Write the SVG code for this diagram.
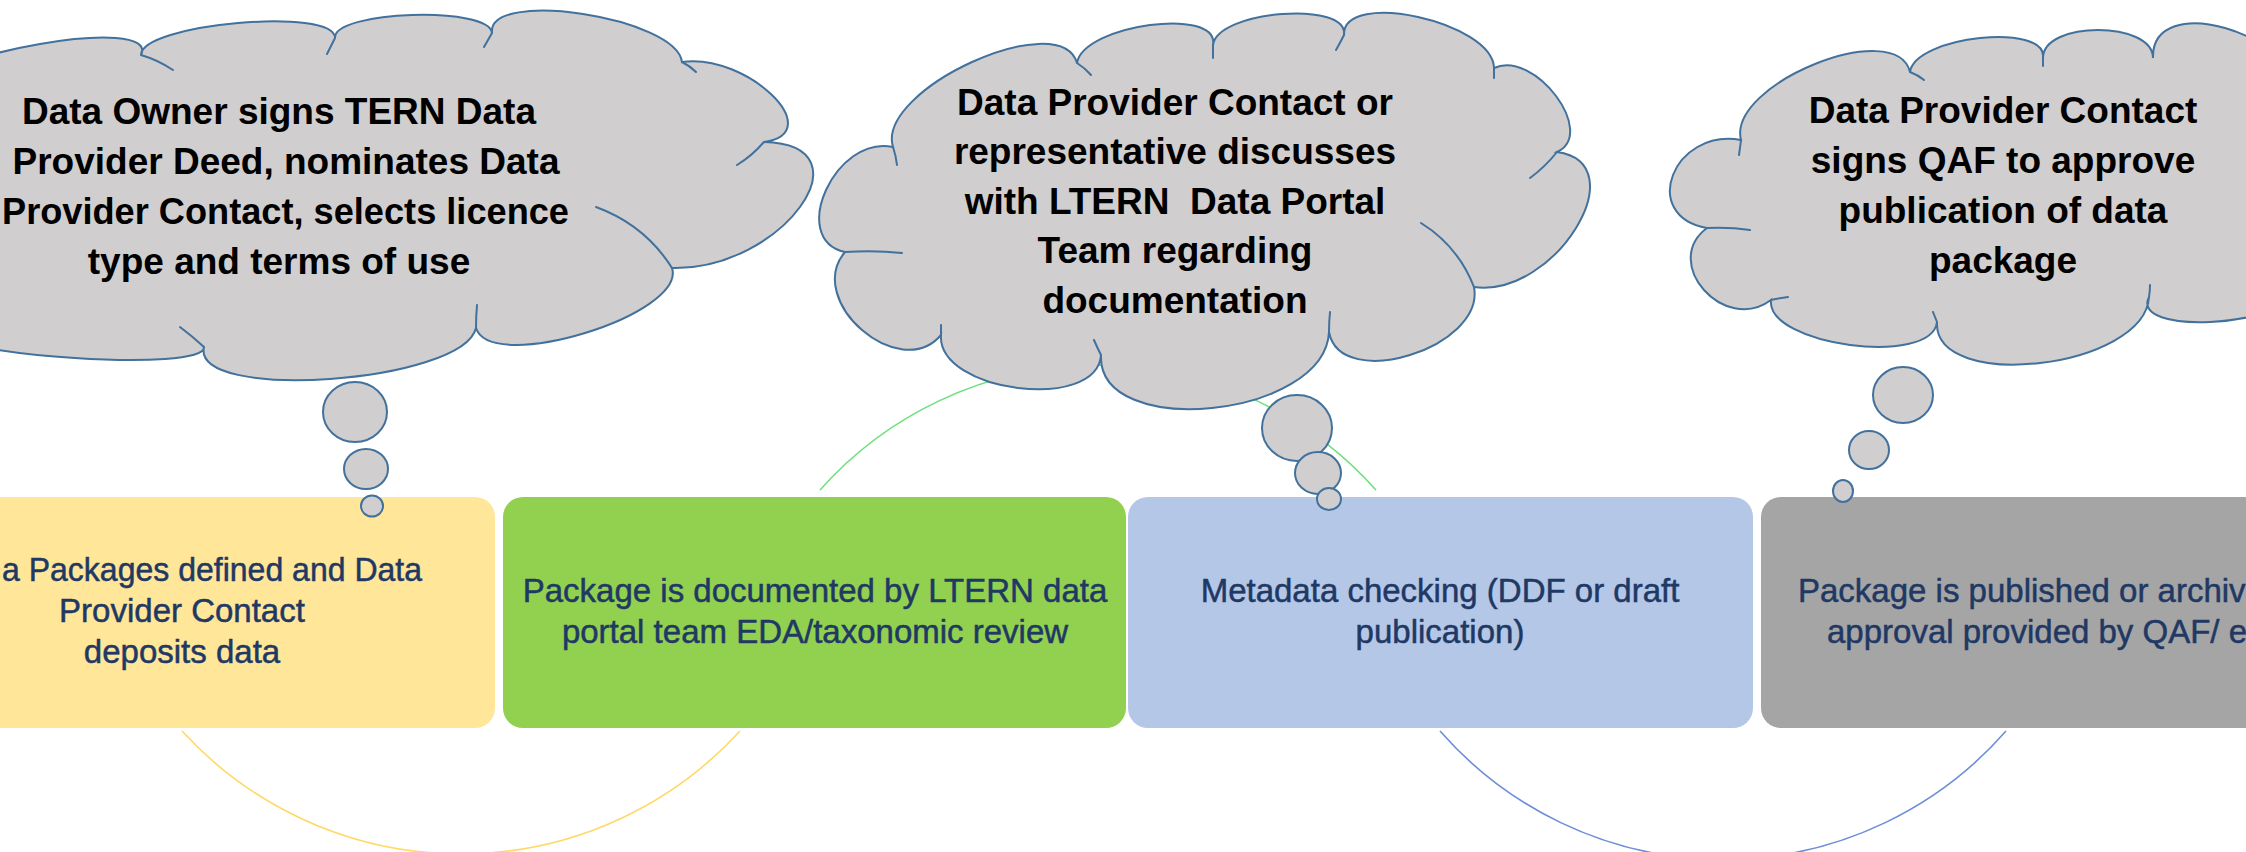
<svg xmlns="http://www.w3.org/2000/svg" width="2246" height="852" viewBox="0 0 2246 852">
<defs>
<style>
.box text{font-family:"Liberation Sans",Arial,sans-serif;font-size:33px;fill:#1f3864;stroke:#1f3864;stroke-width:0.5;text-anchor:middle}
.cloud .outline{fill:#d0cece;stroke:#41719c;stroke-width:2}
.cloud .inner{fill:none;stroke:#41719c;stroke-width:2;stroke-linecap:round}
.cloud ellipse{fill:#d0cece;stroke:#41719c;stroke-width:2}
.cloud text{font-family:"Liberation Sans",Arial,sans-serif;font-weight:bold;font-size:37px;fill:#000;text-anchor:middle}
.conn{fill:none;stroke-width:1.6}
</style>
</defs>
<rect width="2246" height="852" fill="#ffffff"/>

<g id="connectors">
<path class="conn" stroke="#ffd966" d="M182,731 A378,378 0 0,0 740,731"/>
<path class="conn" stroke="#6ee07e" d="M820,490 A372,372 0 0,1 1376,490"/>
<path class="conn" stroke="#6d8fd8" d="M1440,731 A376,376 0 0,0 2006,731"/>
</g>

<g id="box1" class="box">
<rect x="-131" y="497" width="626" height="231" rx="20" fill="#ffe699"/>
<text x="2" y="581" style="text-anchor:start" textLength="420" lengthAdjust="spacingAndGlyphs">a Packages defined and Data</text>
<text x="182" y="622">Provider Contact</text>
<text x="182" y="663">deposits data</text>
</g>

<g id="box2" class="box">
<rect x="503" y="497" width="623" height="231" rx="20" fill="#92d050"/>
<text x="815" y="602">Package is documented by LTERN data</text>
<text x="815" y="643">portal team EDA/taxonomic review</text>
</g>

<g id="box3" class="box">
<rect x="1128" y="497" width="625" height="231" rx="20" fill="#b4c7e7"/>
<text x="1440" y="602">Metadata checking (DDF or draft</text>
<text x="1440" y="643">publication)</text>
</g>

<g id="box4" class="box">
<rect x="1761" y="497" width="625" height="231" rx="20" fill="#a5a5a5"/>
<text x="1798" y="602" style="text-anchor:start">Package is published or archiv</text>
<text x="1827" y="643" style="text-anchor:start">approval provided by QAF/ e</text>
</g>

<g id="cloud1" class="cloud">
<path class="outline" d="M-90,95 C-70.7,53.7 160.3,13.7 141,55 C141,23.7 335,6.7 335,38 C333,10.7 490,5.7 492,33 C486.7,-11.7 676.7,17.3 682,62 C747.3,52.7 829.3,132.7 764,142 C873.3,144.7 781.3,270.7 672,268 C686.7,314.7 490.7,374.7 476,328 C462.7,383.3 190.7,402.3 204,347 C208,373 -56,356 -60,330 C-200,330 -200,95 -90,95 Z"/>
<path class="inner" d="M141,55 Q158,60 173,70 M335,38 Q331,46 327,54 M492,33 Q488,40 484,47 M682,62 Q690,66 696,72 M764,142 Q752,156 737,165 M596,207 Q645,225 672,268 M476,328 Q476,316 477,305 M204,347 Q192,336 180,327"/>
<ellipse cx="355" cy="412" rx="32" ry="30"/>
<ellipse cx="366" cy="469" rx="22" ry="20"/>
<ellipse cx="372" cy="506" rx="11" ry="10.5"/>
<text x="279" y="124">Data Owner signs TERN Data</text>
<text x="286" y="174">Provider Deed, nominates Data</text>
<text x="2" y="224" style="text-anchor:start" textLength="567" lengthAdjust="spacingAndGlyphs">Provider Contact, selects licence</text>
<text x="279" y="274">type and terms of use</text>
</g>

<g id="cloud2" class="cloud">
<path class="outline" d="M893,147 C875.7,89.7 1059.7,5.7 1077,63 C1083.7,24.3 1219.7,6.3 1213,45 C1217.7,10.3 1348.7,0.3 1344,35 C1342.7,-11 1492.7,22 1494,68 C1534.7,49.3 1597.7,133.3 1557,152 C1637.7,163.3 1554.7,298.3 1474,287 C1485.3,347.7 1340.3,392.7 1329,332 C1325,418 1097,441 1101,355 C1097,412.3 937,392.3 941,335 C899.7,383.7 803.7,300.7 845,252 C787.7,239.3 835.7,134.3 893,147 Z"/>
<path class="inner" d="M893,147 Q896,156 897,165 M1077,63 Q1085,68 1091,75 M1213,45 Q1213,52 1213,58 M1344,35 Q1340,43 1336,50 M1494,68 Q1494,73 1494,78 M1557,152 Q1545,167 1530,178 M1421,223 Q1458,246 1474,287 M1329,332 Q1329,322 1330,312 M1101,355 Q1097,347 1094,340 M941,335 Q941,330 941,325 M845,252 Q875,250 902,253"/>
<ellipse cx="1297" cy="428" rx="35" ry="33"/>
<ellipse cx="1318" cy="473" rx="23" ry="21"/>
<ellipse cx="1329" cy="499" rx="12" ry="11"/>
<text x="1175" y="115">Data Provider Contact or</text>
<text x="1175" y="164">representative discusses</text>
<text x="1175" y="214" xml:space="preserve">with LTERN  Data Portal</text>
<text x="1175" y="263">Team regarding</text>
<text x="1175" y="313">documentation</text>
</g>

<g id="cloud3" class="cloud">
<path class="outline" d="M1741,140 C1727,84 1896,16 1910,72 C1914.7,36 2047.7,22 2043,58 C2043,20.7 2153,20.7 2153,58 C2151,-10 2298,32 2300,100 C2380,100 2380,290 2300,290 C2280.7,328 2129.7,335 2149,297 C2145,368.3 1933,393.3 1937,322 C1931.7,367.3 1765.7,345.3 1771,300 C1724.3,334.7 1660.3,262.7 1707,228 C1639,216 1673,128 1741,140 Z"/>
<path class="inner" d="M1741,140 Q1740,148 1739,155 M1910,72 Q1918,75 1924,80 M2043,58 Q2043,62 2043,66 M2149,297 Q2150,291 2150,285 M1937,322 Q1935,317 1933,312 M1771,300 Q1780,298 1788,297 M1707,228 Q1730,227 1750,230"/>
<ellipse cx="1903" cy="395" rx="30" ry="28"/>
<ellipse cx="1869" cy="450" rx="20" ry="19"/>
<ellipse cx="1843" cy="491" rx="10" ry="11"/>
<text x="2003" y="123">Data Provider Contact</text>
<text x="2003" y="173">signs QAF to approve</text>
<text x="2003" y="223">publication of data</text>
<text x="2003" y="273">package</text>
</g>
</svg>
